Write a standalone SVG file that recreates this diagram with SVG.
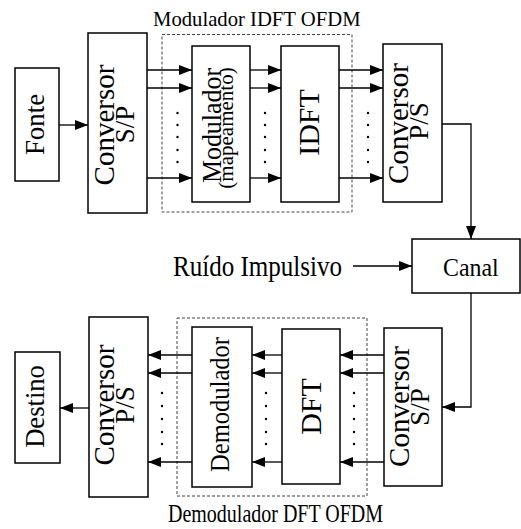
<svg xmlns="http://www.w3.org/2000/svg" width="521" height="529" viewBox="0 0 521 529">
<defs>
<marker id="ah" markerWidth="13" markerHeight="10" refX="13" refY="5" orient="auto" markerUnits="userSpaceOnUse">
<path d="M0,0 L13,5 L0,10 Z" fill="#000"/>
</marker>
</defs>
<style>
rect.b{fill:#fff;stroke:#000;stroke-width:1.5}
rect.d{fill:none;stroke:#444;stroke-width:1;stroke-dasharray:3,2}
text{font-family:"Liberation Serif","Times New Roman",serif;fill:#000}
.r{text-anchor:middle}
.c line,.c path{stroke:#000;stroke-width:1.3;fill:none}
.a{marker-end:url(#ah)}
circle{fill:#000}
</style>
<rect width="521" height="529" fill="#fff"/>
<g id="modulador-ofdm">
<rect class="d" x="162" y="34.5" width="190" height="177.5"/>
<text transform="translate(153,26) scale(0.94,1)" font-size="22">Modulador IDFT OFDM</text>
</g>
<g id="demodulador-ofdm">
<rect class="d" x="177" y="318" width="190" height="178"/>
<text transform="translate(168,522) scale(0.8,1)" font-size="25">Demodulador DFT OFDM</text>
</g>
<g class="c" id="connectors">
<line class="a" x1="59" y1="125" x2="88" y2="125"/>
<line class="a" x1="147" y1="70" x2="192" y2="70"/>
<line class="a" x1="147" y1="88" x2="192" y2="88"/>
<line class="a" x1="147" y1="178" x2="192" y2="178"/>
<line class="a" x1="250" y1="70" x2="281" y2="70"/>
<line class="a" x1="250" y1="88" x2="281" y2="88"/>
<line class="a" x1="250" y1="178" x2="281" y2="178"/>
<line class="a" x1="339" y1="70" x2="383" y2="70"/>
<line class="a" x1="339" y1="88" x2="383" y2="88"/>
<line class="a" x1="339" y1="178" x2="383" y2="178"/>
<path class="a" d="M442,124 H471 V239"/>
<line class="a" x1="353" y1="266" x2="412" y2="266"/>
<path class="a" d="M471,293 V407 H442"/>
<line class="a" x1="384" y1="355" x2="340" y2="355"/>
<line class="a" x1="384" y1="373" x2="340" y2="373"/>
<line class="a" x1="384" y1="462" x2="340" y2="462"/>
<line class="a" x1="282" y1="355" x2="252" y2="355"/>
<line class="a" x1="282" y1="373" x2="252" y2="373"/>
<line class="a" x1="282" y1="462" x2="252" y2="462"/>
<line class="a" x1="192" y1="355" x2="148" y2="355"/>
<line class="a" x1="192" y1="373" x2="148" y2="373"/>
<line class="a" x1="192" y1="462" x2="148" y2="462"/>
<line class="a" x1="89" y1="408" x2="60" y2="408"/>
</g>
<g id="dots">
<circle cx="177.5" cy="113" r="1.2"/><circle cx="177.5" cy="125" r="1.2"/><circle cx="177.5" cy="137" r="1.2"/><circle cx="177.5" cy="150" r="1.2"/><circle cx="177.5" cy="162" r="1.2"/>
<circle cx="265" cy="113" r="1.2"/><circle cx="265" cy="125" r="1.2"/><circle cx="265" cy="137" r="1.2"/><circle cx="265" cy="150" r="1.2"/><circle cx="265" cy="162" r="1.2"/>
<circle cx="368" cy="113" r="1.2"/><circle cx="368" cy="125" r="1.2"/><circle cx="368" cy="137" r="1.2"/><circle cx="368" cy="150" r="1.2"/><circle cx="368" cy="162" r="1.2"/>
<circle cx="162" cy="393" r="1.2"/><circle cx="162" cy="406" r="1.2"/><circle cx="162" cy="419" r="1.2"/><circle cx="162" cy="432" r="1.2"/><circle cx="162" cy="444" r="1.2"/>
<circle cx="266" cy="393" r="1.2"/><circle cx="266" cy="406" r="1.2"/><circle cx="266" cy="419" r="1.2"/><circle cx="266" cy="432" r="1.2"/><circle cx="266" cy="444" r="1.2"/>
<circle cx="354" cy="393" r="1.2"/><circle cx="354" cy="406" r="1.2"/><circle cx="354" cy="419" r="1.2"/><circle cx="354" cy="432" r="1.2"/><circle cx="354" cy="444" r="1.2"/>
</g>
<g id="fonte">
<rect class="b" x="15" y="68" width="44" height="113"/>
<text class="r" transform="translate(44,124.5) rotate(-90) scale(0.96,1)" font-size="28">Fonte</text>
</g>
<g id="conversor-sp-tx">
<rect class="b" x="88" y="33" width="59" height="180"/>
<text class="r" transform="translate(114,125) rotate(-90)" font-size="29">Conversor</text>
<text class="r" transform="translate(134,124.5) rotate(-90)" font-size="27">S/P</text>
</g>
<g id="modulador">
<rect class="b" x="192" y="46" width="58" height="156"/>
<text class="r" transform="translate(221,125.5) rotate(-90) scale(0.96,1)" font-size="27">Modulador</text>
<text class="r" transform="translate(233,128) rotate(-90)" font-size="21">(mapeamento)</text>
</g>
<g id="idft">
<rect class="b" x="281" y="46" width="58" height="156"/>
<text class="r" transform="translate(319,122.5) rotate(-90)" font-size="30">IDFT</text>
</g>
<g id="conversor-ps-tx">
<rect class="b" x="383" y="44" width="59" height="158"/>
<text class="r" transform="translate(408,123.5) rotate(-90)" font-size="29">Conversor</text>
<text class="r" transform="translate(428,121) rotate(-90)" font-size="27">P/S</text>
</g>
<g id="canal">
<rect class="b" x="412" y="239" width="108" height="54"/>
<text transform="translate(443,276) scale(0.92,1)" font-size="26">Canal</text>
</g>
<g id="ruido">
<text transform="translate(173,276) scale(0.835,1)" font-size="30">Ruído Impulsivo</text>
</g>
<g id="conversor-sp-rx">
<rect class="b" x="384" y="328" width="58" height="158"/>
<text class="r" transform="translate(409,406.5) rotate(-90)" font-size="29">Conversor</text>
<text class="r" transform="translate(429,407) rotate(-90)" font-size="27">S/P</text>
</g>
<g id="dft">
<rect class="b" x="282" y="329" width="58" height="155"/>
<text class="r" transform="translate(321,406.5) rotate(-90)" font-size="30">DFT</text>
</g>
<g id="demodulador">
<rect class="b" x="192" y="327" width="60" height="160"/>
<text class="r" transform="translate(229,404.5) rotate(-90) scale(0.91,1)" font-size="27">Demodulador</text>
</g>
<g id="conversor-ps-rx">
<rect class="b" x="89" y="317" width="59" height="180"/>
<text class="r" transform="translate(114,405) rotate(-90)" font-size="29">Conversor</text>
<text class="r" transform="translate(134,405) rotate(-90)" font-size="27">P/S</text>
</g>
<g id="destino">
<rect class="b" x="15" y="352" width="45" height="111"/>
<text class="r" transform="translate(44,406.5) rotate(-90) scale(0.95,1)" font-size="28">Destino</text>
</g>
</svg>
